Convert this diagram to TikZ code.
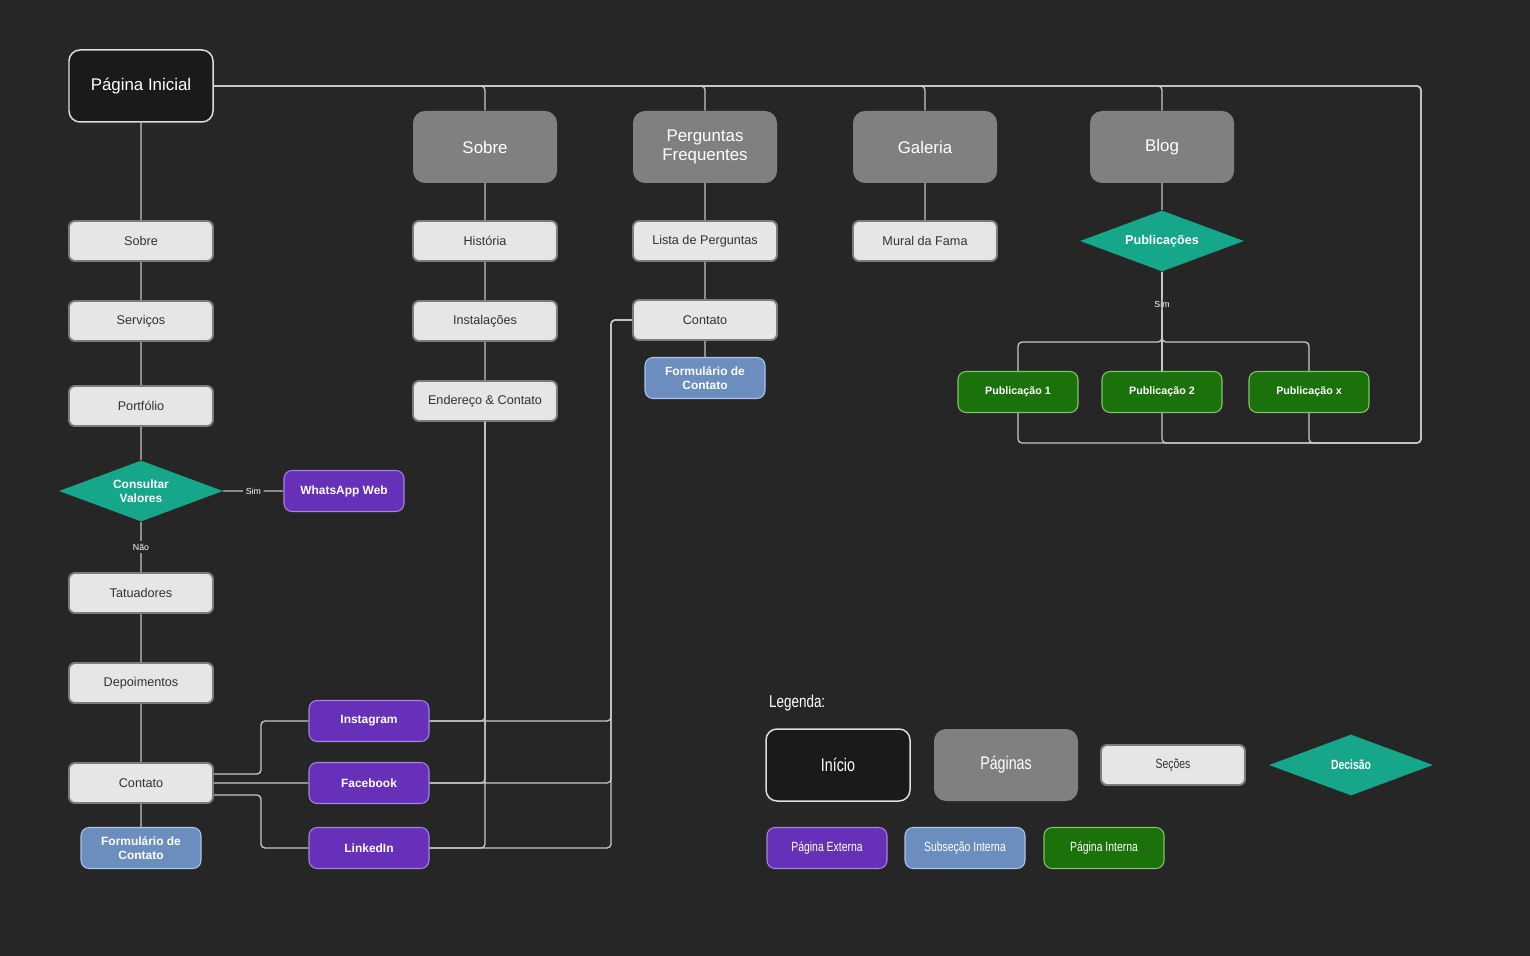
\documentclass[tikz,border=0pt]{standalone}
\usepackage{fontspec}
\setmainfont{Liberation Sans}
\newfontfamily\estreita[FakeStretch=0.78]{Liberation Sans}
\usetikzlibrary{shapes}
\definecolor{fundo}{HTML}{262626}
\definecolor{iniciofundo}{HTML}{1A1A1A}
\definecolor{iniciobord}{HTML}{DDDDDD}
\definecolor{paginafundo}{HTML}{808080}
\definecolor{secaofundo}{HTML}{E6E6E6}
\definecolor{secaobord}{HTML}{7C7C7C}
\definecolor{secaotexto}{HTML}{333333}
\definecolor{decisaofundo}{HTML}{16A68A}
\definecolor{externafundo}{HTML}{6631B8}
\definecolor{externabord}{HTML}{A384E0}
\definecolor{subfundo}{HTML}{6C8EBF}
\definecolor{subbord}{HTML}{A9C4EB}
\definecolor{internafundo}{HTML}{1B720B}
\definecolor{internabord}{HTML}{82C26E}
\definecolor{linhaclara}{HTML}{C8C8C8}
\definecolor{linhacinza}{HTML}{8C8C8C}
\tikzstyle{inicio} = [rectangle, draw=iniciobord, fill=iniciofundo, line width=0.85pt, rounded corners=0.22cm,
    minimum width=2.88cm, minimum height=1.44cm, text=white, font=\fontsize{9.6}{11}\selectfont]
\tikzstyle{page} = [rectangle, fill=paginafundo, rounded corners=0.24cm, minimum width=2.88cm,
    minimum height=1.44cm, text=white, align=center, font=\fontsize{9.6}{11}\selectfont]
\tikzstyle{section} = [rectangle, draw=secaobord, fill=secaofundo, line width=1.1pt, rounded corners=0.12cm,
    minimum width=2.88cm, minimum height=0.8cm, text=secaotexto, font=\fontsize{7.2}{8.5}\selectfont]
\tikzstyle{decision} = [diamond, aspect=2.7, fill=decisaofundo, minimum width=3.28cm, minimum height=1.22cm,
    inner sep=0pt, text=white, align=center, font=\bfseries\fontsize{6.8}{7.8}\selectfont]
\tikzstyle{badge} = [rectangle, rounded corners=0.16cm, minimum width=2.4cm, minimum height=0.82cm,
    line width=0.6pt, text=white, align=center, font=\bfseries\fontsize{6.8}{7.8}\selectfont]
\tikzstyle{external} = [badge, draw=externabord, fill=externafundo]
\tikzstyle{subsection} = [badge, draw=subbord, fill=subfundo]
\tikzstyle{internal} = [badge, draw=internabord, fill=internafundo, font=\bfseries\fontsize{6.1}{7}\selectfont]
\tikzstyle{line} = [draw=linhaclara, line width=0.75pt, rounded corners=0.08cm]
\tikzstyle{line2} = [draw=linhacinza, line width=0.75pt, rounded corners=0.08cm]
\tikzstyle{rotulo} = [fill=fundo, anchor=center, inner sep=1.5pt, text=white, font=\fontsize{5}{6}\selectfont]

\begin{document}
\begin{tikzpicture}[node distance=1.6cm,auto]
  \fill [fundo] (0,0) rectangle (30.6,-19.12);
  \useasboundingbox (0,0) rectangle (30.6,-19.12);

  % coluna da pagina inicial
  \node [inicio] (inicial) at (2.82,-1.72) {Página Inicial};
  \node [section, below of=inicial, yshift=-1.5cm] (sobre) {Sobre};
  \node [section, below of=sobre] (servicos) {Serviços};
  \node [section, below of=servicos, yshift=-0.1cm] (portfolio) {Portfólio};
  \node [decision, below of=portfolio, yshift=-0.1cm] (consultar) {Consultar\\Valores};
  \node [external, right of=consultar, xshift=2.46cm] (whatsapp) {WhatsApp Web};
  \node [section, below of=consultar, yshift=-0.44cm] (tatuadores) {Tatuadores};
  \node [section, below of=tatuadores, yshift=-0.2cm] (depoimentos) {Depoimentos};
  \node [section, below of=depoimentos, yshift=-0.4cm] (contato) {Contato};
  \node [subsection, below of=contato, yshift=0.3cm] (formulario) {Formulário de\\Contato};

  \node [external] (instagram) at (7.38,-14.42) {Instagram};
  \node [external, below of=instagram, yshift=0.36cm] (facebook) {Facebook};
  \node [external, below of=facebook, yshift=0.3cm] (linkedin) {LinkedIn};

  % paginas
  \node [page] (sobrepag) at (9.7,-2.94) {Sobre};
  \node [section, below of=sobrepag, yshift=-0.28cm] (historia) {História};
  \node [section, below of=historia] (instalacoes) {Instalações};
  \node [section, below of=instalacoes] (endereco) {Endereço \& Contato};

  \node [page] (perguntas) at (14.1,-2.94) {Perguntas\\Frequentes};
  \node [section, below of=perguntas, yshift=-0.28cm] (lista) {Lista de Perguntas};
  \node [section, below of=lista, yshift=0.02cm] (contatofaq) {Contato};
  \node [subsection, below of=contatofaq, yshift=0.44cm] (formfaq) {Formulário de\\Contato};

  \node [page] (galeria) at (18.5,-2.94) {Galeria};
  \node [section, below of=galeria, yshift=-0.28cm] (mural) {Mural da Fama};

  \node [page] (blog) at (23.24,-2.94) {Blog};
  \node [decision, below of=blog, yshift=-0.28cm, font=\bfseries\fontsize{7.2}{8}\selectfont] (publicacoes) {Publicações};
  \node [internal, below of=publicacoes, yshift=-1.42cm] (pub2) {Publicação 2};
  \node [internal, left of=pub2, xshift=-1.28cm] (pub1) {Publicação 1};
  \node [internal, right of=pub2, xshift=1.34cm] (pubx) {Publicação x};

  \coordinate (cantoblog) at (28.42,-8.86);
  \coordinate (barra) at (23.24,-6.84);
  \coordinate (desvio) at (12.22,-6.4);

  % legenda
  \node [anchor=west, text=white, font=\estreita\fontsize{9.8}{11}\selectfont] (legenda) at (15.26,-14.06) {Legenda:};
  \node [inicio, font=\estreita\fontsize{10.4}{12}\selectfont] (leginicio) at (16.76,-15.3) {Início};
  \node [page, font=\estreita\fontsize{10.4}{12}\selectfont] (legpagina) at (20.12,-15.3) {Páginas};
  \node [section, font=\estreita\fontsize{7.6}{9}\selectfont] (legsecao) at (23.46,-15.3) {Seções};
  \node [decision, font=\estreita\bfseries\fontsize{7.6}{9}\selectfont] (legdecisao) at (27.02,-15.3) {Decisão};
  \node [external, font=\estreita\fontsize{7.6}{9}\selectfont] (legexterna) at (16.54,-16.96) {Página Externa};
  \node [subsection, font=\estreita\fontsize{7.6}{9}\selectfont] (legsub) at (19.3,-16.96) {Subseção Interna};
  \node [internal, font=\estreita\fontsize{7.6}{9}\selectfont] (leginterna) at (22.08,-16.96) {Página Interna};

  \path [line2] (inicial) -- (sobre);
  \path [line2] (sobre) -- (servicos);
  \path [line2] (servicos) -- (portfolio);
  \path [line2] (portfolio) -- (consultar);
  \path [line2] (consultar) -- node [rotulo] {Sim} (whatsapp);
  \path [line2] (consultar) -- node [rotulo] {Não} (tatuadores);
  \path [line2] (tatuadores) -- (depoimentos);
  \path [line2] (depoimentos) -- (contato);
  \path [line2] (contato) -- (formulario);

  \path [line] ([yshift=0.18cm]contato.east) -- ++(0.94,0) |- (instagram.west);
  \path [line] (contato.east) -- (facebook.west);
  \path [line] ([yshift=-0.24cm]contato.east) -- ++(0.94,0) |- (linkedin.west);
  \path [line] (instagram.east) -| (endereco.south);
  \path [line] (facebook.east) -| (endereco.south);
  \path [line] (linkedin.east) -| (endereco.south);
  \path [line] (instagram.east) -| (desvio) -- (contatofaq.west);
  \path [line] (facebook.east) -| (desvio) -- (contatofaq.west);
  \path [line] (linkedin.east) -| (desvio) -- (contatofaq.west);

  \path [line] (inicial.east) -| (sobrepag.north);
  \path [line] (inicial.east) -| (perguntas.north);
  \path [line] (inicial.east) -| (galeria.north);
  \path [line] (inicial.east) -| (blog.north);
  \path [line] (inicial.east) -| (cantoblog) -| (pub1.south);
  \path [line] (inicial.east) -| (cantoblog) -| (pub2.south);
  \path [line] (inicial.east) -| (cantoblog) -| (pubx.south);

  \path [line2] (sobrepag) -- (historia);
  \path [line2] (historia) -- (instalacoes);
  \path [line2] (instalacoes) -- (endereco);
  \path [line2] (perguntas) -- (lista);
  \path [line2] (lista) -- (contatofaq);
  \path [line2] (contatofaq) -- (formfaq);
  \path [line2] (galeria) -- (mural);
  \path [line2] (blog) -- (publicacoes);

  \path [line] (publicacoes) -- node [rotulo, pos=0.33] {Sim} (pub2);
  \path [line] (publicacoes.south) -- (barra) -| (pub1.north);
  \path [line] (publicacoes.south) -- (barra) -| (pubx.north);
\end{tikzpicture}
\end{document}
